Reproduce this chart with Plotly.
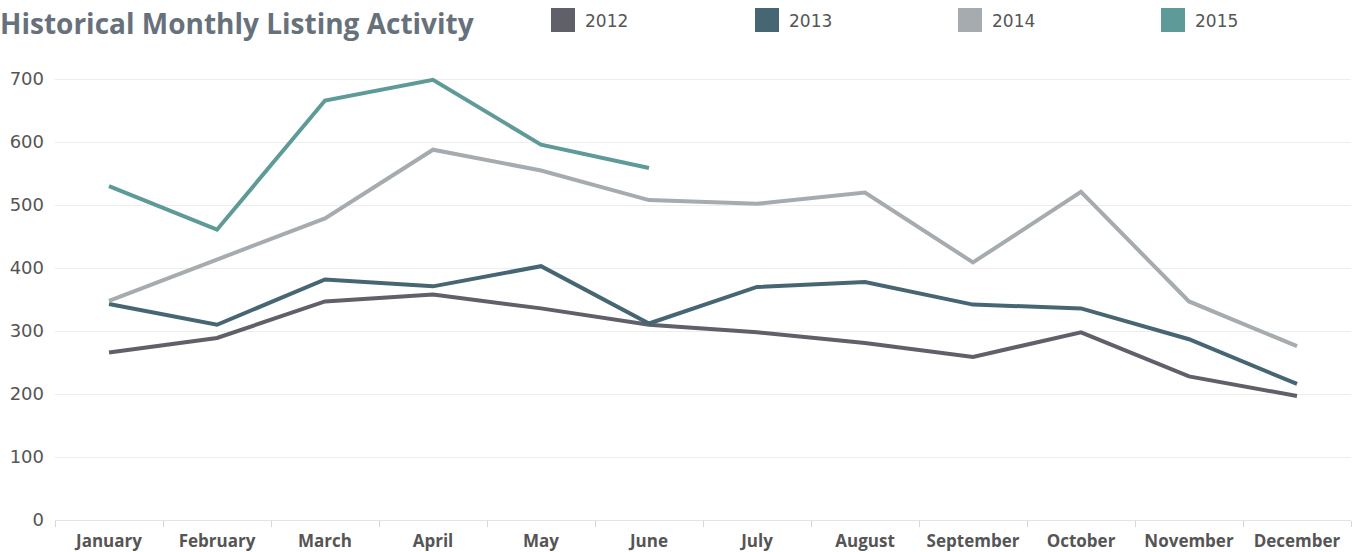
import plotly.graph_objects as go

months = ["January", "February", "March", "April", "May", "June",
          "July", "August", "September", "October", "November", "December"]
years = ["2012", "2013", "2014", "2015"]
v2012 = [266, 289, 347, 358, 336, 310, 298, 281, 259, 298, 228, 197]
v2013 = [343, 310, 382, 371, 403, 312, 370, 378, 342, 336, 287, 216]
v2014 = [348, 413, 479, 588, 555, 508, 502, 520, 409, 521, 347, 276]
v2015 = [530, 461, 666, 699, 596, 559]
colors = ["#5f6069", "#476673", "#a5abae", "#5e9b98"]
yticks = [0, 100, 200, 300, 400, 500, 600, 700]

W, H = 1361, 552
ML, MR, MT, MB = 55, 10, 76, 32
PW, PH = W - ML - MR, H - MT - MB

fig = go.Figure()
for name, vals, col in zip(years, [v2012, v2013, v2014, v2015], colors):
    fig.add_trace(go.Scatter(x=months[:len(vals)], y=vals, mode="lines", name=name,
                             line=dict(color=col, width=4), showlegend=False,
                             hoverinfo="x+y+name"))

def px2x(px):
    return (px - ML) / PW

def py2y(py):
    return (H - MB - py) / PH

# legend drawn as squares + labels in header row
leg_x0 = [551, 755, 958, 1161]
shapes = []
annotations = []
for name, col, lx in zip(years, colors, leg_x0):
    shapes.append(dict(type="rect", xref="paper", yref="paper",
                       x0=px2x(lx), x1=px2x(lx + 24), y0=py2y(32), y1=py2y(8),
                       fillcolor=col, line=dict(width=0)))
    annotations.append(dict(text=name, xref="paper", yref="paper",
                            x=px2x(lx + 32), y=py2y(21), xanchor="left", yanchor="middle",
                            showarrow=False,
                            font=dict(family="DejaVu Sans", size=17, color="#555555")))

fig.update_layout(
    width=W, height=H,
    margin=dict(l=ML, r=MR, t=MT, b=MB, pad=0, autoexpand=False),
    paper_bgcolor="white", plot_bgcolor="white",
    showlegend=False,
    title=dict(text="<b>Historical Monthly Listing Activity</b>",
               x=0, xref="container", xanchor="left",
               y=1 - 24 / H, yref="container", yanchor="middle",
               font=dict(family="Open Sans", size=28, color="#67717b")),
    shapes=shapes,
    annotations=annotations,
    xaxis=dict(type="category", categoryorder="array", categoryarray=months,
               range=[-0.5, 11.5], showgrid=False, automargin=False,
               showline=True, linecolor="#e3e3e3", linewidth=1,
               ticks="outside", tickson="boundaries", ticklen=6, tickcolor="#d8d8d8",
               ticklabelstandoff=6,
               tickfont=dict(family="Open Sans", size=17, color="#555555", weight="bold"),
               fixedrange=True),
    yaxis=dict(range=[0, 705], tickvals=yticks, showgrid=True, gridcolor="#ededed",
               gridwidth=1, zeroline=False, showline=False, ticks="", automargin=False,
               ticklabelstandoff=10,
               tickfont=dict(family="DejaVu Sans", size=18, color="#555555"),
               fixedrange=True),
)

fig.write_html("out.html")
